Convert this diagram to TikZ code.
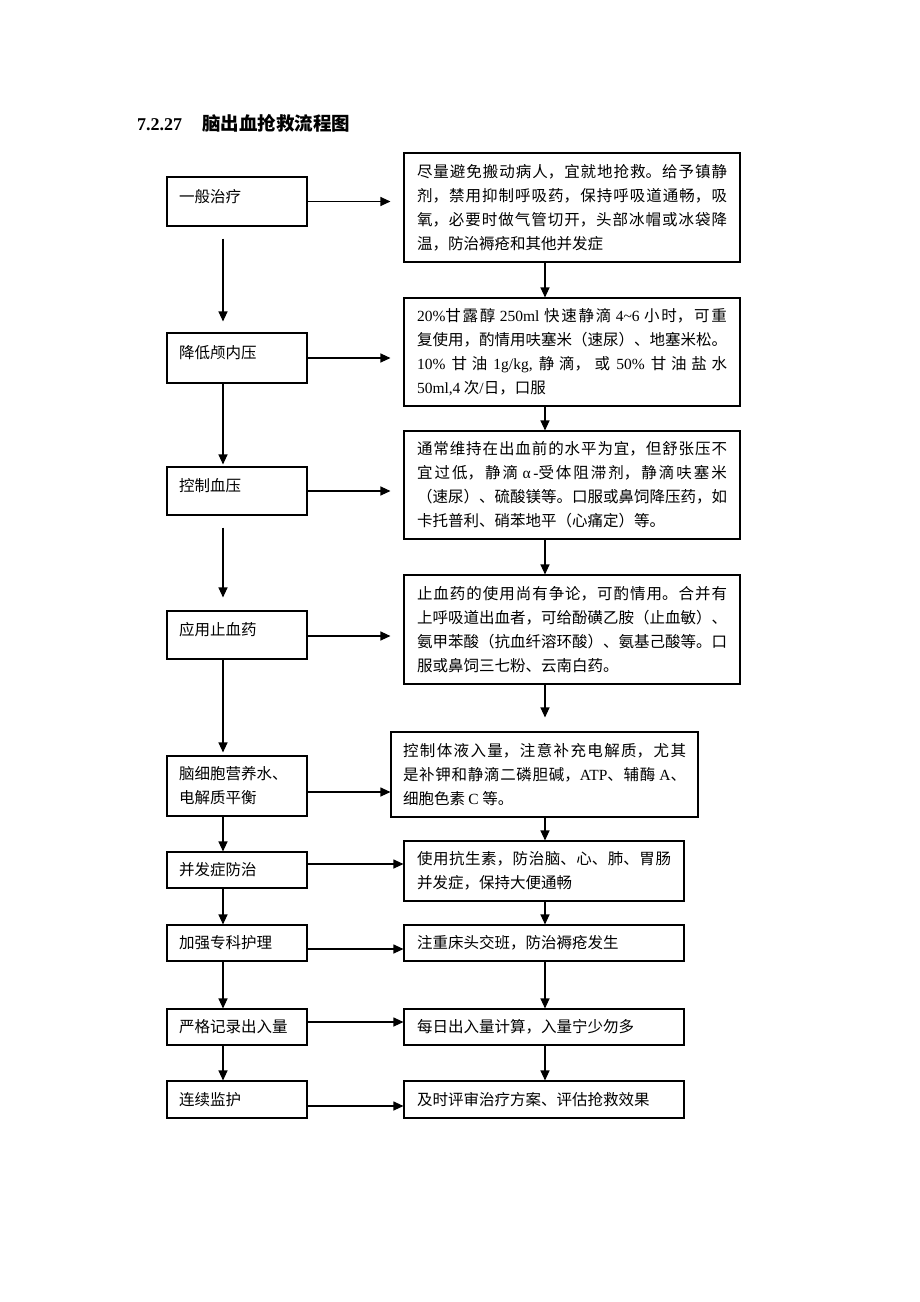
\documentclass[tikz,border=0pt]{standalone}
\usepackage{fontspec}
\setmainfont{Liberation Serif}
\newfontfamily\cjk{Noto Sans CJK SC}
\usetikzlibrary{arrows.meta}
\XeTeXlinebreaklocale "zh"
\XeTeXlinebreakskip=0pt plus 3pt minus 0.6pt
\newcommand\enf[1]{\mbox{\rmfamily #1}}
\begin{document}
\begin{tikzpicture}[x=1pt,y=-1pt,
  box/.style={draw, line width=1.1pt, inner ysep=2pt, font=\cjk\fontsize{15.5}{24}\selectfont},
  lbox/.style={box, inner xsep=12pt, text width=116pt, align=left, minimum height=#1},
  rbox/.style={box, inner xsep=13pt, text width=310pt, align=justify, minimum height=#1},
  r5box/.style={box, inner xsep=12pt, text width=283pt, align=justify, minimum height=#1},
  r6box/.style={box, inner xsep=13pt, text width=254pt, align=justify, minimum height=#1},
  raised/.style={text depth=12pt},
  arr/.style={line width=1.1pt, -{Triangle[length=10pt,width=9pt]}}]
\useasboundingbox[fill=white] (0,0) rectangle (920,1302);

\node[anchor=west, inner sep=0pt] (title) at (137,123)
  {\bfseries\fontsize{18}{20}\selectfont 7.2.27\hspace{20pt}{\cjk\fontsize{18.5}{20}\selectfont 脑出血抢救流程图}};

% left column
\node[lbox=49pt, raised] (l1) at (237,201.5) {一般治疗};
\node[lbox=50pt, raised] (l2) at (237,358) {降低颅内压};
\node[lbox=48pt, raised] (l3) at (237,491) {控制血压};
\node[lbox=48pt, raised] (l4) at (237,635) {应用止血药};
\node[lbox=60pt] (l5) at (237,786) {脑细胞营养水、\\电解质平衡};
\node[lbox=36pt] (l6) at (237,870) {并发症防治};
\node[lbox=36pt] (l7) at (237,943) {加强专科护理};
\node[lbox=36pt] (l8) at (237,1027) {严格记录出入量};
\node[lbox=37pt] (l9) at (237,1099.5) {连续监护};

% right column
\node[rbox=109pt] (r1) at (572,207.5) {尽量避免搬动病人，宜就地抢救。给予镇静\linebreak 剂，禁用抑制呼吸药，保持呼吸道通畅，吸\linebreak 氧，必要时做气管切开，头部冰帽或冰袋降\linebreak 温，防治褥疮和其他并发症};
\node[rbox=108pt] (r2) at (572,352) {\enf{20\%}甘露醇 \enf{250ml} 快速静滴 \enf{4\textasciitilde 6} 小时，可重\linebreak 复使用，酌情用呋塞米（速尿）、地塞米松。\linebreak \enf{10\%} 甘油 \enf{1g/kg,} 静滴，或 \enf{50\%} 甘油盐水\linebreak \enf{50ml,4} 次\enf{/}日，口服};
\node[rbox=108pt] (r3) at (572,485) {通常维持在出血前的水平为宜，但舒张压不\linebreak 宜过低，静滴 \enf{α\,-}受体阻滞剂，静滴呋塞米\linebreak （速尿）、硫酸镁等。口服或鼻饲降压药，如\linebreak 卡托普利、硝苯地平（心痛定）等。};
\node[rbox=109pt] (r4) at (572,629.5) {止血药的使用尚有争论，可酌情用。合并有\linebreak 上呼吸道出血者，可给酚磺乙胺（止血敏）、\linebreak 氨甲苯酸（抗血纤溶环酸）、氨基己酸等。口\linebreak 服或鼻饲三七粉、云南白药。};
\node[r5box=85pt] (r5) at (544.5,774.5) {控制体液入量，注意补充电解质，尤其\linebreak 是补钾和静滴二磷胆碱，\enf{ATP}、辅酶 \enf{A}、\linebreak 细胞色素 \enf{C} 等。};
\node[r6box=60pt] (r6) at (544,871) {使用抗生素，防治脑、心、肺、胃肠\linebreak 并发症，保持大便通畅};
\node[r6box=36pt] (r7) at (544,943) {注重床头交班，防治褥疮发生};
\node[r6box=36pt] (r8) at (544,1027) {每日出入量计算，入量宁少勿多};
\node[r6box=37pt] (r9) at (544,1099.5) {及时评审治疗方案、评估抢救效果};

\coordinate (lx) at (223,0);
\coordinate (rx) at (545,0);

% horizontal arrows
\draw[arr, shorten >=13pt] (l1.east) -- (l1.east -| r1.west);
\draw[arr, shorten >=13pt] (l2.east) -- (l2.east -| r2.west);
\draw[arr, shorten >=13pt] (l3.east) -- (l3.east -| r3.west);
\coordinate (a4) at ([yshift=-1pt]l4.east);
\draw[arr, shorten >=13pt] (a4) -- (a4 -| r4.west);
\coordinate (a5) at ([yshift=-6pt]l5.east);
\draw[arr] (a5) -- (a5 -| r5.west);
\coordinate (a6) at ([yshift=6pt]l6.east);
\draw[arr] (a6) -- (a6 -| r6.west);
\coordinate (a7) at ([yshift=-6pt]l7.east);
\draw[arr] (a7) -- (a7 -| r7.west);
\coordinate (a8) at ([yshift=5pt]l8.east);
\draw[arr] (a8) -- (a8 -| r8.west);
\coordinate (a9) at ([yshift=-6.5pt]l9.east);
\draw[arr] (a9) -- (a9 -| r9.west);

% left vertical arrows
\draw[arr, shorten <=12pt, shorten >=11pt] (l1.south -| lx) -- (l2.north -| lx);
\draw[arr, shorten >=2pt] (l2.south -| lx) -- (l3.north -| lx);
\draw[arr, shorten <=12pt, shorten >=13pt] (l3.south -| lx) -- (l4.north -| lx);
\draw[arr, shorten >=3pt] (l4.south -| lx) -- (l5.north -| lx);
\draw[arr] (l5.south -| lx) -- (l6.north -| lx);
\draw[arr] (l6.south -| lx) -- (l7.north -| lx);
\draw[arr] (l7.south -| lx) -- (l8.north -| lx);
\draw[arr] (l8.south -| lx) -- (l9.north -| lx);

% right vertical arrows
\draw[arr] (r1.south -| rx) -- (r2.north -| rx);
\draw[arr] (r2.south -| rx) -- (r3.north -| rx);
\draw[arr] (r3.south -| rx) -- (r4.north -| rx);
\draw[arr, shorten >=14pt] (r4.south -| rx) -- (r5.north -| rx);
\draw[arr] (r5.south -| rx) -- (r6.north -| rx);
\draw[arr] (r6.south -| rx) -- (r7.north -| rx);
\draw[arr] (r7.south -| rx) -- (r8.north -| rx);
\draw[arr] (r8.south -| rx) -- (r9.north -| rx);
\end{tikzpicture}
\end{document}
